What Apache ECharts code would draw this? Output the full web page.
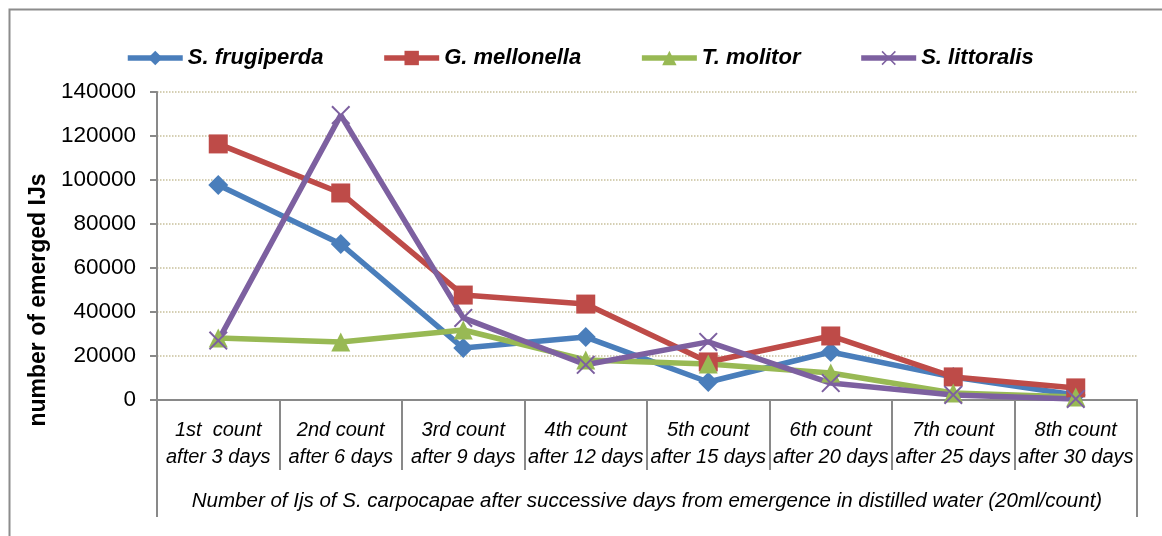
<!DOCTYPE html>
<html>
<head>
<meta charset="utf-8">
<script src="https://cdn.jsdelivr.net/npm/echarts@6/dist/echarts.min.js"></script>
<style>
  html, body { margin: 0; padding: 0; background: #fff; }
  #chart { width: 1162px; height: 536px; }
</style>
</head>
<body>
<div id="chart"></div>
<script>
const counts = [
  '1st  count\nafter 3 days', '2nd count\nafter 6 days', '3rd count\nafter 9 days', '4th count\nafter 12 days',
  '5th count\nafter 15 days', '6th count\nafter 20 days', '7th count\nafter 25 days', '8th count\nafter 30 days'
]
const xTitle = 'Number of Ijs of S. carpocapae after successive days from emergence in distilled water (20ml/count)'
const frugiperda = [97700, 70900, 23600, 28600, 8200, 21800, 10400, 2300]
const mellonella = [116400, 94100, 47700, 43600, 17300, 29100, 10500, 5500]
const molitor = [28200, 26400, 31800, 18200, 16400, 12300, 3200, 1400]
const littoralis = [27000, 129500, 37300, 16000, 26400, 7700, 2300, 500]

// thin "x" marker, as the spreadsheet draws it
const xMark = 'path://M0,1.5L1.5,0L10,8.5L18.5,0L20,1.5L11.5,10L20,18.5L18.5,20L10,11.5L1.5,20L0,18.5L8.5,10Z'
const sans = '"Liberation Sans", sans-serif'

const chart = echarts.init(document.getElementById('chart'))

const mkSeries = (name, data, color, symbol, size) => ({
  name,
  type: 'line',
  data,
  symbol,
  symbolSize: size,
  showSymbol: true,
  lineStyle: { width: 5.5, color },
  itemStyle: { color },
  z: 3,
})

chart.setOption({
  animation: false,
  graphic: [{
    type: 'rect',
    shape: { x: 9.5, y: 9.5, width: 1200, height: 600 },
    style: { fill: 'none', stroke: '#8c8c8c', lineWidth: 2 },
    silent: true,
  }],
  legend: {
    left: 120,
    top: 42,
    itemWidth: 55,
    itemHeight: 18,
    itemGap: 58,
    lineStyle: { width: 5.5 },
    textStyle: {
      fontFamily: sans,
      fontStyle: 'italic',
      fontWeight: 'bold',
      fontSize: 22,
      color: '#000',
    },
  },
  grid: { left: 157, right: 25, top: 92, bottom: 136 },
  xAxis: [
    {
      type: 'category',
      data: counts,
      boundaryGap: true,
      axisLine: { show: true, lineStyle: { color: '#898989', width: 2 } },
      axisTick: { show: true, interval: 0, length: 70, lineStyle: { color: '#898989', width: 2 } },
      axisLabel: {
        interval: 0,
        margin: 17,
        fontFamily: sans,
        fontStyle: 'italic',
        fontSize: 20,
        lineHeight: 27,
        color: '#000',
      },
    },
    {
      type: 'category',
      data: [xTitle],
      position: 'bottom',
      boundaryGap: true,
      axisLine: { show: true, lineStyle: { color: '#898989', width: 2 } },
      axisTick: { show: true, length: 117, lineStyle: { color: '#898989', width: 2 } },
      axisLabel: {
        margin: 91,
        fontFamily: sans,
        fontStyle: 'italic',
        fontSize: 20.5,
        color: '#000',
      },
    },
  ],
  yAxis: {
    type: 'value',
    min: 0,
    max: 140000,
    interval: 20000,
    name: 'number of emerged IJs',
    nameLocation: 'middle',
    nameGap: 106,
    nameTextStyle: {
      fontFamily: sans,
      fontWeight: 'bold',
      fontSize: 23,
      color: '#000',
      padding: [0, 108, 0, 0],
    },
    axisLine: { show: true, lineStyle: { color: '#898989', width: 2 } },
    axisTick: { show: true, length: 7, lineStyle: { color: '#898989', width: 2 } },
    axisLabel: {
      margin: 21,
      formatter: (v) => String(v),
      fontFamily: sans,
      fontSize: 22.5,
      color: '#000',
    },
    splitLine: { lineStyle: { type: 'dotted', color: '#c8c09a', width: 1.5 } },
  },
  series: [
    mkSeries('S. frugiperda', frugiperda, '#4a7ebb', 'diamond', 20),
    mkSeries('G. mellonella', mellonella, '#be4b48', 'rect', 19),
    mkSeries('T. molitor', molitor, '#98b954', 'triangle', 19),
    mkSeries('S. littoralis', littoralis, '#7d60a0', xMark, 19),
  ],
})

window.addEventListener('resize', () => chart.resize())
</script>
</body>
</html>
